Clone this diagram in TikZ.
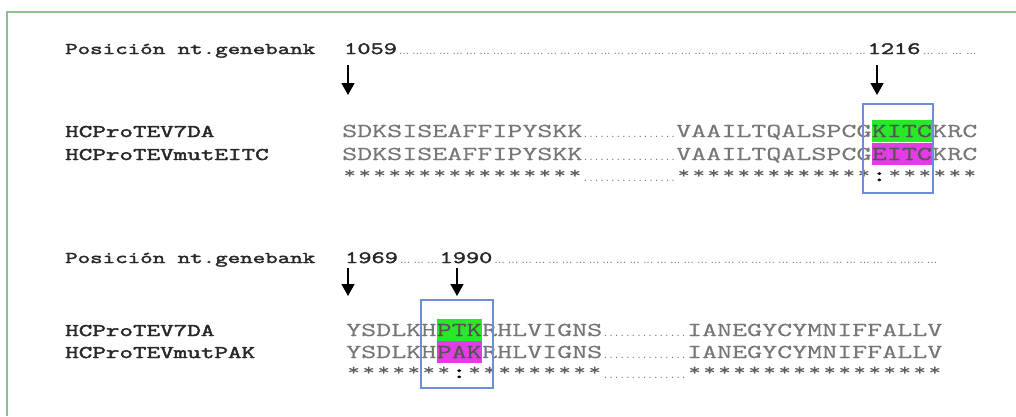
\documentclass[tikz,border=0pt]{standalone}
\usepackage{fontspec}
\newfontfamily\seqfont[FakeStretch=1.48,FakeBold=0.4]{Latin Modern Mono}
\newfontfamily\labfont[FakeStretch=1.48,FakeBold=2.4]{Latin Modern Mono}
\newfontfamily\dotfont{Liberation Sans}
\usetikzlibrary{arrows.meta,positioning}
\definecolor{framegreen}{RGB}{140,192,140}
\definecolor{labgray}{RGB}{40,40,40}
\definecolor{seqgray}{RGB}{118,118,118}
\definecolor{stargray}{RGB}{95,95,95}
\definecolor{hlgreen}{RGB}{40,232,40}
\definecolor{hlmag}{RGB}{228,60,228}
\definecolor{selblue}{RGB}{110,140,220}
\newcommand\seqsize{\fontsize{19.7}{19.7}\selectfont}
% row of small dots: total width, step
\newcommand\dotrun[2]{\hbox to #1{\xleaders\hbox to #2{\hss.\hss}\hfill}}
\newcommand\dotgroup[1]{\hbox to #1{\xleaders\hbox to 13.4pt{\hss.\kern0.4pt.\kern0.4pt.\hss}\hfill}}
% n stars, one per sequence column
\newcommand\starrun[1]{\setbox0\hbox{\seqfont\seqsize M}%
  \foreach\i in {1,...,#1}{\hbox to \wd0{\hss\raise3pt\hbox{*}\hss}}}
\tikzset{
    poslab/.style={anchor=base west,inner sep=0pt,text=labgray,font=\labfont\fontsize{16.4}{16.4}\selectfont},
    lab/.style={anchor=base west,inner sep=0pt,text=labgray,font=\labfont\fontsize{17.8}{17.8}\selectfont},
    num/.style={anchor=base west,inner sep=0pt,text=labgray,font=\labfont\fontsize{17.3}{17.3}\selectfont},
    seq/.style={anchor=base west,inner sep=0pt,text=seqgray,font=\seqfont\seqsize},
    hlseq/.style={seq,text=labgray!80,text height=17.5pt,text depth=5pt},
    starrow/.style={anchor=base west,inner sep=0pt,text=stargray,font=\seqfont\fontsize{16}{16}\selectfont},
    colonmark/.style={seq,text=black,font=\labfont\seqsize},
    dotsrow/.style={anchor=base west,inner sep=0pt,text=seqgray,font=\dotfont\fontsize{11}{11}\selectfont},
    downarrow/.style={-{Triangle[length=12pt,width=13pt]},line width=1.6pt,black},
    selbox/.style={draw=selblue,line width=1.3pt}
}
\begin{document}
\begin{tikzpicture}[x=1pt,y=-1pt]
  \useasboundingbox[fill=white] (0,0) rectangle (1016,416);
  \draw[framegreen,line width=2pt] (7,416) -- (7,12) -- (1016,12);

  % first block
  \node[poslab] (pos1) at (65,54) {Posición nt.genebank};
  \node[num] (n1059) at (344,54) {1059};
  \node[dotsrow] (hd1) at (n1059.base east) {\dotgroup{470pt}};
  \node[num] (n1216) at (hd1.base east) {1216};
  \node[dotsrow] (hd2) at (n1216.base east) {\dotgroup{58pt}};
  \coordinate (a1s) at (348,65);  \coordinate (a1e) at (348,95);
  \coordinate (a2s) at (877,65);  \coordinate (a2e) at (877,95);
  \draw[downarrow] (a1s) -- (a1e);
  \draw[downarrow] (a2s) -- (a2e);

  \node[lab] (l7da) at (65,137) {HCProTEV7DA};
  \node[lab] (leitc) at (65,160) {HCProTEVmutEITC};

  \node[seq] (s1a) at (342,137) {SDKSISEAFFIPYSKK};
  \node[dotsrow] (s1d) at (s1a.base east) {\dotrun{93pt}{5.3pt}};
  \node[seq] (s1b) at (s1d.base east) {VAAILTQALSPCG};
  \node[hlseq,fill=hlgreen] (s1h) at (s1b.base east) {KITC};
  \node[seq] (s1c) at (s1h.base east) {KRC};

  \node[seq] (m1a) at (342,160) {SDKSISEAFFIPYSKK};
  \node[dotsrow] (m1d) at (m1a.base east) {\dotrun{93pt}{5.3pt}};
  \node[seq] (m1b) at (m1d.base east) {VAAILTQALSPCG};
  \node[hlseq,fill=hlmag] (m1h) at (m1b.base east) {EITC};
  \node[seq] (m1c) at (m1h.base east) {KRC};

  \node[starrow] (t1a) at (342,181) {\starrun{16}};
  \node[dotsrow] (t1d) at (t1a.base east) {\dotrun{93pt}{5.3pt}};
  \node[starrow] (t1b) at (t1d.base east) {\starrun{13}};
  \node[colonmark] (t1c) at (t1b.base east) {:};
  \node[starrow] (t1e) at (t1c.base east) {\starrun{6}};

  \draw[selbox] (863,104) rectangle (933,193);

  % second block
  \node[poslab] (pos2) at (65,263) {Posición nt.genebank};
  \node[num] (n1969) at (345,263) {1969};
  \node[dotsrow] (hd3) at (n1969.base east) {\dotgroup{41pt}};
  \node[num] (n1990) at (hd3.base east) {1990};
  \node[dotsrow] (hd4) at (n1990.base east) {\dotgroup{446pt}};
  \coordinate (a3s) at (348,268);  \coordinate (a3e) at (348,296);
  \coordinate (a4s) at (457,268);  \coordinate (a4e) at (457,296);
  \draw[downarrow] (a3s) -- (a3e);
  \draw[downarrow] (a4s) -- (a4e);

  \node[lab] (l7db) at (65,336) {HCProTEV7DA};
  \node[lab] (lpak) at (65,358) {HCProTEVmutPAK};

  \node[seq] (s2a) at (346,336) {YSDLKH};
  \node[hlseq,fill=hlgreen] (s2h) at (s2a.base east) {PTK};
  \node[seq] (s2b) at (s2h.base east) {RHLVIGNS};
  \node[dotsrow] (s2d) at (s2b.base east) {\dotrun{84pt}{5.3pt}};
  \node[seq] (s2c) at (s2d.base east) {IANEGYCYMNIFFALLV};

  \node[seq] (m2a) at (346,358) {YSDLKH};
  \node[hlseq,fill=hlmag] (m2h) at (m2a.base east) {PAK};
  \node[seq] (m2b) at (m2h.base east) {RHLVIGNS};
  \node[dotsrow] (m2d) at (m2b.base east) {\dotrun{84pt}{5.3pt}};
  \node[seq] (m2c) at (m2d.base east) {IANEGYCYMNIFFALLV};

  \node[starrow] (t2a) at (346,378) {\starrun{7}};
  \node[colonmark] (t2c) at (t2a.base east) {:};
  \node[starrow] (t2b) at (t2c.base east) {\starrun{9}};
  \node[dotsrow] (t2d) at (t2b.base east) {\dotrun{84pt}{5.3pt}};
  \node[starrow] (t2e) at (t2d.base east) {\starrun{17}};

  \draw[selbox] (421,300) rectangle (493,388);
\end{tikzpicture}
\end{document}
